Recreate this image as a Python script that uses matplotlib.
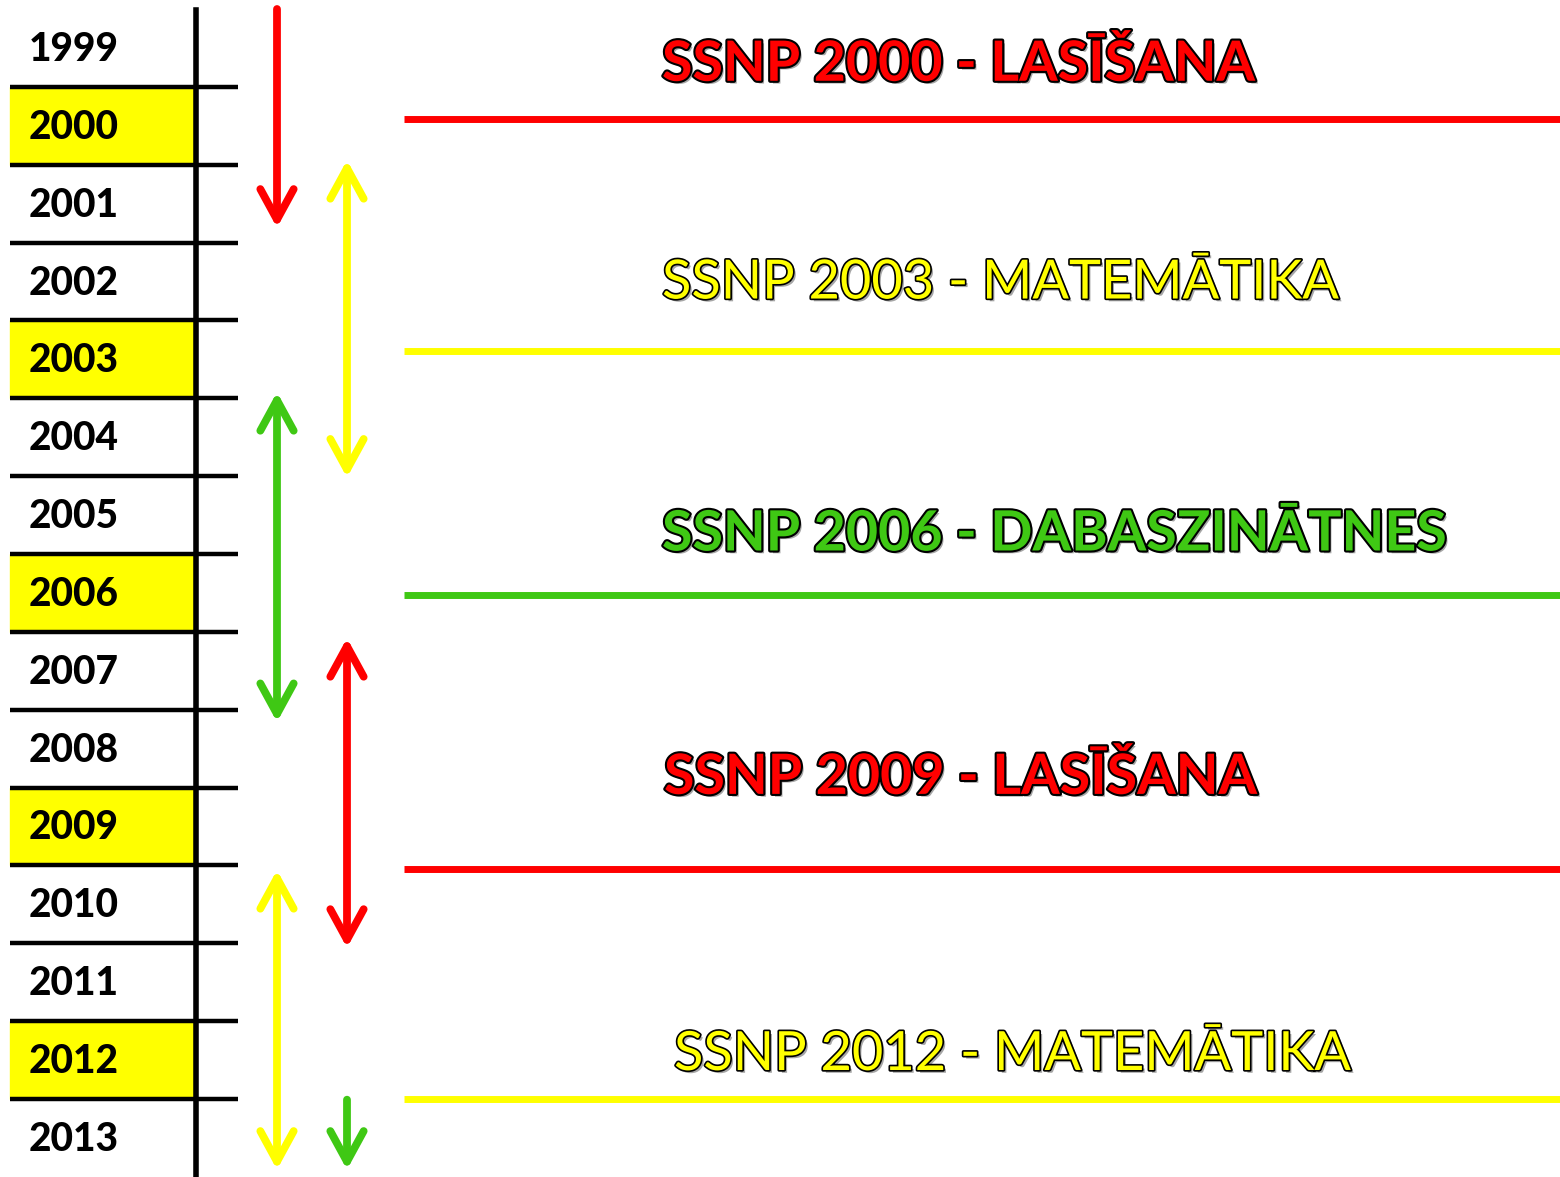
import matplotlib
matplotlib.use("Agg")
import matplotlib.pyplot as plt
from matplotlib.patches import Rectangle, FancyArrowPatch
import matplotlib.patheffects as pe

years = list(range(1999, 2014))
highlight = [2000, 2003, 2006, 2009, 2012]

# arrows: (column, start, end, colour, style) in row units (0 = top of 1999 row)
arrows = [
    (0, 0.0, 2.81, 'red', '->'),
    (1, 1.94, 6.02, 'yellow', '<->'),
    (0, 4.92, 9.16, '#3fc814', '<->'),
    (1, 8.08, 12.06, 'red', '<->'),
    (0, 11.06, 14.91, 'yellow', '<->'),
    (1, 14.01, 14.91, '#3fc814', '->'),
]

# studies: label, colour, bold, text row, line row, text x
studies = [
    ('SSNP 2000 - LASĪŠANA', 'red', True, 0.71, 1.41, 662),
    ('SSNP 2003 - MATEMĀTIKA', 'yellow', False, 3.52, 4.39, 662),
    ('SSNP 2006 - DABASZINĀTNES', '#3fc814', True, 6.75, 7.53, 662),
    ('SSNP 2009 - LASĪŠANA', 'red', True, 9.87, 11.05, 664),
    ('SSNP 2012 - MATEMĀTIKA', 'yellow', False, 13.43, 14.0, 674),
]

W, H = 1560, 1177
top = 9
row_h = 77.85


def ypos(r):
    return top + r * row_h


fig = plt.figure(figsize=(W / 100, H / 100), dpi=100)
ax = fig.add_axes([0, 0, 1, 1])
ax.set_xlim(0, W)
ax.set_ylim(H, 0)
ax.axis('off')

for i, y in enumerate(years):
    if y in highlight:
        ax.add_patch(Rectangle((10, ypos(i)), 185, row_h, color='yellow', zorder=1))
    ax.text(29, ypos(i + 0.52), str(y), fontsize=28, fontweight=900,
            family='Lato', va='center', ha='left', zorder=3)
    if i > 0:
        ax.plot([10, 238], [ypos(i), ypos(i)], color='black', lw=3.2,
                solid_capstyle='butt', zorder=2)

ax.plot([196, 196], [ypos(0) + 1, H - 2], color='black', lw=4, zorder=2)

col_x = [277, 347]
for col, a, b, c, st in arrows:
    arr = FancyArrowPatch((col_x[col], ypos(a)), (col_x[col], ypos(b)),
                          arrowstyle=st + ',head_length=22,head_width=12',
                          mutation_scale=1, shrinkA=0, shrinkB=0,
                          color=c, lw=5.6, capstyle='round', joinstyle='round')
    ax.add_patch(arr)

for label, c, bold, tr, lr, tx in studies:
    effects = [pe.SimplePatchShadow(offset=(2, -2), shadow_rgbFace='black', alpha=0.35),
               pe.Stroke(linewidth=3 if bold else 2.4, foreground='black'),
               pe.Normal()]
    ax.text(tx, ypos(tr), label, color=c, fontsize=40 if bold else 39,
            fontweight='bold' if bold else 'normal', family='Lato',
            va='center', ha='left', path_effects=effects)
    ax.plot([404, W], [ypos(lr), ypos(lr)], color=c, lw=5, solid_capstyle='butt')

plt.savefig('out.png', dpi=100)
